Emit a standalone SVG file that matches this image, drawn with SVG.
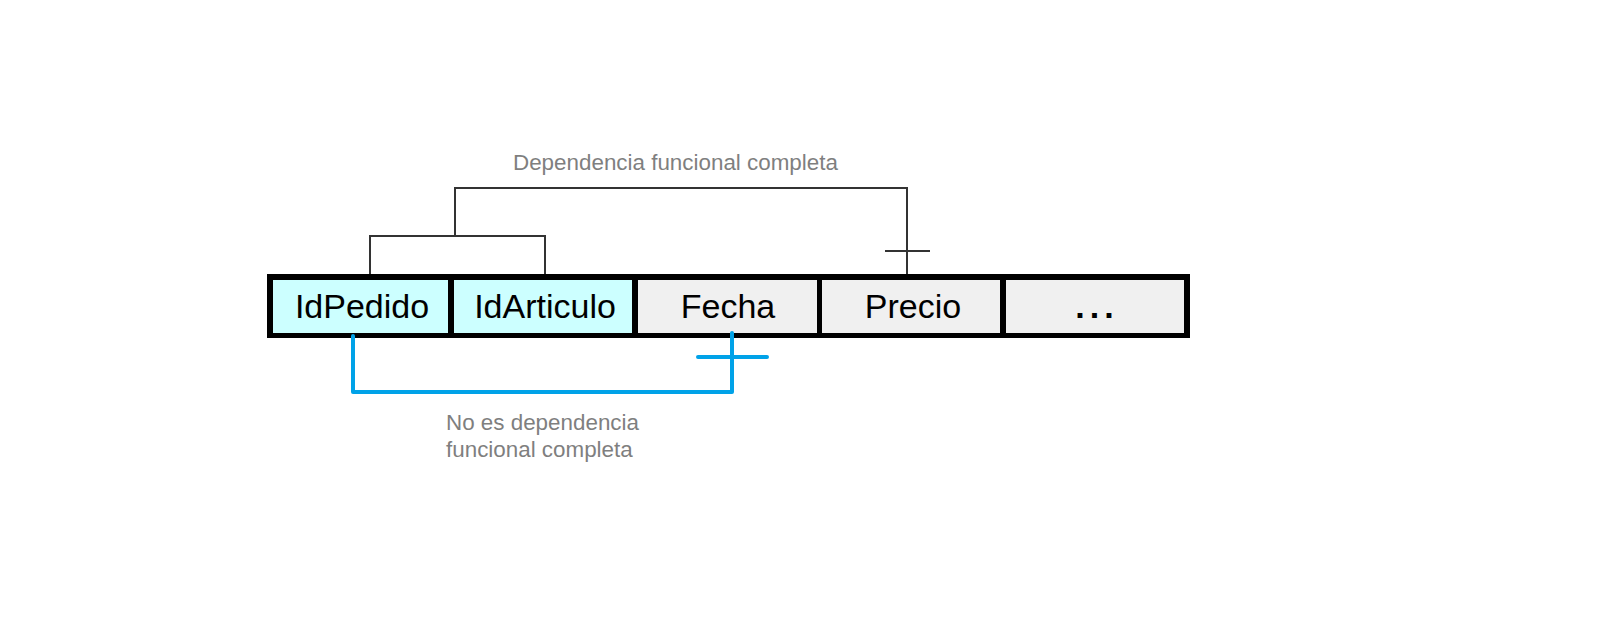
<svg xmlns="http://www.w3.org/2000/svg" width="1607" height="639" viewBox="0 0 1607 639">
<style>
.cell-text{font-family:"Liberation Sans",Arial,sans-serif;font-size:34px;fill:#000;text-anchor:middle}
.label{font-family:"Liberation Sans",Arial,sans-serif;font-size:22.4px;fill:#7f7f7f}
.key{fill:#ccffff}
.attr{fill:#f0f0f0}
.dep{fill:none;stroke:#333;stroke-width:2}
.nodep{fill:none;stroke:#00a2e8;stroke-width:4;stroke-linecap:round;stroke-linejoin:round}
</style>
<rect width="1607" height="639" fill="#fff"/>
<g id="table">
<rect x="267" y="274" width="923" height="64" fill="#000"/>
</g>
<g id="IdPedido">
<rect class="key" x="273" y="280" width="175" height="53"/>
<text class="cell-text" x="362" y="318">IdPedido</text>
</g>
<g id="IdArticulo">
<rect class="key" x="454" y="280" width="178" height="53"/>
<text class="cell-text" x="545" y="318">IdArticulo</text>
</g>
<g id="Fecha">
<rect class="attr" x="638" y="280" width="179" height="53"/>
<text class="cell-text" x="728" y="318">Fecha</text>
</g>
<g id="Precio">
<rect class="attr" x="822" y="280" width="178" height="53"/>
<text class="cell-text" x="913" y="318">Precio</text>
</g>
<g id="Resto">
<rect class="attr" x="1006" y="280" width="178" height="53"/>
<text class="cell-text" x="1097" y="318" font-weight="bold" font-size="24" letter-spacing="5">...</text>
</g>
<g id="connectors">
<path class="dep" d="M370 274 V236 H545 V274 M455 236 V188 H907 V274 M885 251 H930"/>
<path class="nodep" d="M353 336 V392 H732 V333 M698 357 H767"/>
</g>
<g id="labels">
<text class="label" x="513" y="170">Dependencia funcional completa</text>
<text class="label" x="446" y="430">No es dependencia</text>
<text class="label" x="446" y="457">funcional completa</text>
</g>
</svg>
